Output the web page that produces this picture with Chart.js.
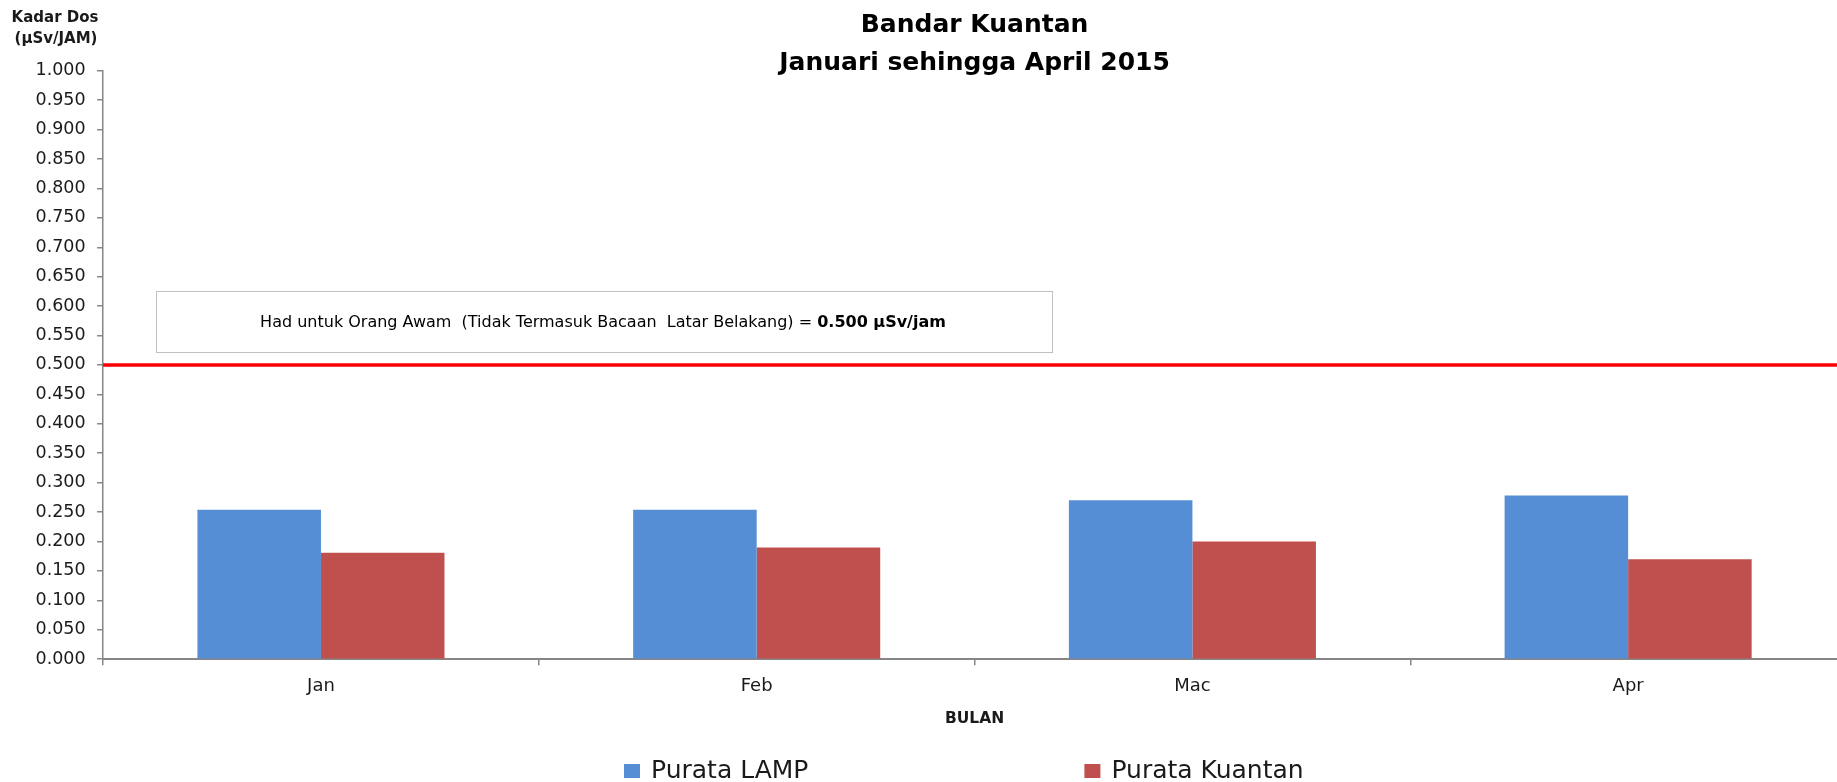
<!DOCTYPE html>
<html>
<head>
<meta charset="utf-8">
<title>Kadar Dos Bandar Kuantan</title>
<script src="https://cdn.jsdelivr.net/npm/chart.js@4.4.1/dist/chart.umd.min.js"></script>
<style>
    html, body { margin: 0; padding: 0; background: #fff; overflow: hidden; }
    #wrap { width: 1846px; height: 782px; position: relative; }
</style>
</head>
<body>
<div id="wrap"><canvas id="dosChart"></canvas></div>
<script>
// Data
const bulan = ['Jan', 'Feb', 'Mac', 'Apr'];
const purataLamp = [0.254, 0.254, 0.270, 0.278];
const purataKuantan = [0.181, 0.190, 0.200, 0.170];
const namaSiri = ['Purata LAMP', 'Purata Kuantan'];
const warnaSiri = ['#558ED5', '#C0504D'];
const tajuk = ['Bandar Kuantan', 'Januari sehingga April 2015'];
const tajukPaksiY = ['Kadar Dos', '(µSv/JAM)'];
const hadOrangAwam = 0.5;
const teksHad = 'Had untuk Orang Awam  (Tidak Termasuk Bacaan  Latar Belakang) = ';
const teksHadTebal = '0.500 µSv/jam';

const FONT = "'DejaVu Sans', Verdana, sans-serif";
const GREY = '#868686';

// Extra drawing: limit line, note box, axis title, legend
const hiasan = {
    id: 'hiasan',
    afterDraw(chart) {
        const {ctx, chartArea, scales} = chart;
        ctx.save();

        // red limit line
        const yHad = scales.y.getPixelForValue(hadOrangAwam);
        ctx.strokeStyle = '#FF0000';
        ctx.lineWidth = 3.5;
        ctx.beginPath();
        ctx.moveTo(chartArea.left, yHad);
        ctx.lineTo(chart.width, yHad);
        ctx.stroke();

        // note box
        ctx.fillStyle = '#fff';
        ctx.fillRect(156, 291, 896, 61);
        ctx.strokeStyle = '#BFBFBF';
        ctx.lineWidth = 1;
        ctx.strokeRect(156.5, 291.5, 896, 61);

        ctx.textBaseline = 'middle';
        ctx.textAlign = 'left';
        ctx.fillStyle = '#000';
        ctx.font = `16px ${FONT}`;
        const w1 = ctx.measureText(teksHad).width;
        ctx.font = `bold 16px ${FONT}`;
        const w2 = ctx.measureText(teksHadTebal).width;
        const x0 = 603 - (w1 + w2) / 2;
        ctx.font = `16px ${FONT}`;
        ctx.fillText(teksHad, x0, 323);
        ctx.font = `bold 16px ${FONT}`;
        ctx.fillText(teksHadTebal, x0 + w1, 323);

        // y axis title
        ctx.textAlign = 'center';
        ctx.font = `bold 15px ${FONT}`;
        ctx.fillStyle = '#1a1a1a';
        ctx.fillText(tajukPaksiY[0], 55, 18);
        ctx.fillText(tajukPaksiY[1], 56, 39);

        // legend
        ctx.textAlign = 'left';
        ctx.textBaseline = 'alphabetic';
        ctx.font = `25px ${FONT}`;
        let x = 624;
        chart.data.datasets.forEach(ds => {
            ctx.fillStyle = ds.backgroundColor;
            ctx.fillRect(x, 764, 16, 14);
            ctx.fillStyle = '#1a1a1a';
            ctx.fillText(ds.label, x + 27, 778);
            x += 27 + ctx.measureText(ds.label).width + 276;
        });

        ctx.restore();
    }
};

new Chart(document.getElementById('dosChart'), {
    type: 'bar',
    data: {
        labels: bulan,
        datasets: [
            { label: namaSiri[0], data: purataLamp, backgroundColor: warnaSiri[0] },
            { label: namaSiri[1], data: purataKuantan, backgroundColor: warnaSiri[1] }
        ]
    },
    options: {
        responsive: true,
        maintainAspectRatio: false,
        animation: false,
        categoryPercentage: 0.567,
        barPercentage: 1.0,
        layout: { padding: { left: 24, top: 0, right: 0, bottom: 53.6 } },
        plugins: {
            legend: { display: false },
            tooltip: { enabled: false },
            title: {
                display: true,
                fullSize: false,
                text: tajuk,
                color: '#000',
                font: { family: FONT, size: 25, weight: 'bold', lineHeight: 1.5 },
                padding: { top: 7, bottom: -11.3 }
            }
        },
        scales: {
            x: {
                grid: {
                    drawOnChartArea: false,
                    drawTicks: true,
                    tickLength: 6,
                    color: GREY,
                    lineWidth: 1.5
                },
                border: { color: GREY, width: 2 },
                ticks: {
                    color: '#1a1a1a',
                    padding: 10,
                    font: { family: FONT, size: 18 }
                },
                title: {
                    display: true,
                    text: 'BULAN',
                    color: '#1a1a1a',
                    font: { family: FONT, size: 15.5, weight: 'bold' },
                    padding: { top: 3, bottom: 0 }
                }
            },
            y: {
                min: 0,
                max: 1,
                grid: {
                    drawOnChartArea: false,
                    drawTicks: true,
                    tickLength: 6,
                    color: GREY,
                    lineWidth: 1.5
                },
                border: { color: GREY, width: 1.5 },
                ticks: {
                    stepSize: 0.05,
                    color: '#1a1a1a',
                    padding: 11.5,
                    font: { family: FONT, size: 17.5 },
                    callback: v => v.toFixed(3)
                }
            }
        }
    },
    plugins: [hiasan]
});
</script>
</body>
</html>
